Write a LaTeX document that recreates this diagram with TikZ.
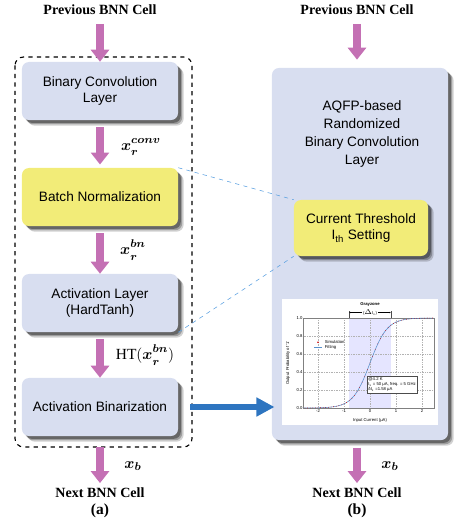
\documentclass[tikz,border=0pt]{standalone}
\usepackage{fontspec}
\usepackage{amsmath}
\setmainfont{Liberation Serif}
\setsansfont{Liberation Sans}
\usetikzlibrary{arrows.meta}
\definecolor{cellblue}{RGB}{216,222,240}
\definecolor{bnyellow}{RGB}{242,236,120}
\definecolor{flowpink}{RGB}{196,112,180}
\definecolor{linkblue}{RGB}{46,117,192}
\definecolor{dashblue}{RGB}{90,160,225}
\newcommand{\upsc}[1]{\raisebox{1.2pt}{$\scriptstyle\boldsymbol{#1}$}}
\newcommand{\dnsc}[1]{\raisebox{-1.2pt}{$\scriptstyle\boldsymbol{#1}$}}
\tikzset{
  softshadow/.style={
    preaction={fill=black, opacity=0.18, transform canvas={xshift=4pt, yshift=-4pt}},
    preaction={fill=black, opacity=0.25, transform canvas={xshift=3pt, yshift=-3pt}},
    preaction={fill=black, opacity=0.35, transform canvas={xshift=2pt, yshift=-2pt}}},
  layerbox/.style={rounded corners=5pt, fill=cellblue, minimum width=3.9cm, minimum height=1.45cm,
    align=center, font=\sffamily\fontsize{9.7}{12}\selectfont, softshadow},
  normbox/.style={layerbox, fill=bnyellow},
  cellhead/.style={font=\bfseries\fontsize{10}{12}\selectfont},
  flowlabel/.style={font=\fontsize{11}{13}\selectfont, inner sep=1pt},
  flow/.style={flowpink, line width=0.2cm, -{Triangle[width=0.45cm,length=0.3cm]}},
  feed/.style={linkblue, line width=0.15cm, -{Triangle[width=0.45cm,length=0.45cm]}},
  plottext/.style={font=\sffamily\fontsize{3}{3.6}\selectfont, inner sep=0.6pt},
}
\begin{document}
\begin{tikzpicture}[x=0.025cm, y=-0.025cm]
  \useasboundingbox (0,0) rectangle (454,527);
  % (a) software BNN cell
  \node[cellhead] (prevA) at (100,10) {Previous BNN Cell};
  \node[layerbox] (conv) at (100,91) {Binary Convolution\\Layer};
  \node[normbox] (bn) at (100,197) {Batch Normalization};
  \node[layerbox] (act) at (100,303) {Activation Layer\\(HardTanh)};
  \node[layerbox] (bin) at (100,407) {Activation Binarization};
  \node[cellhead] (nextA) at (100,493) {Next BNN Cell};
  \node[cellhead, font=\bfseries\fontsize{11}{13}\selectfont] (capA) at (100,511) {(a)};
  \draw[dashed, thick, rounded corners=6pt] (15,57) rectangle (192,447);
  \draw[flow, shorten <=0.1cm] (prevA) -- (conv);
  \draw[flow, shorten <=0.18cm, shorten >=0.08cm] (conv) -- (bn);
  \draw[flow, shorten <=0.18cm] (bn) -- (act);
  \draw[flow, shorten <=0.18cm] (act) -- (bin);
  \draw[flow, shorten <=0.28cm] (bin) -- (nextA);
  \node[flowlabel] (lconv) at (141,147) {$\boldsymbol{x}_{\dnsc{r}}^{\upsc{conv}}$};
  \node[flowlabel] (lbn) at (133,250) {$\boldsymbol{x}_{\dnsc{r}}^{\upsc{bn}}$};
  \node[flowlabel] (lht) at (145,355) {$\mathrm{HT}(\boldsymbol{x}_{\dnsc{r}}^{\upsc{bn}})$};
  \node[flowlabel] (lbA) at (133,466) {$\boldsymbol{x_b}$};
  % (b) AQFP cell
  \node[cellhead] (prevB) at (357,10) {Previous BNN Cell};
  \node[layerbox, minimum width=4.4cm, minimum height=9.3cm] (aqfp) at (360,254) {};
  \node[font=\sffamily\fontsize{9.7}{13}\selectfont, align=center] (aqfpname) at (362,134)
    {AQFP-based\\Randomized\\Binary Convolution\\Layer};
  \node[normbox, minimum width=3.35cm, minimum height=1.4cm] (thr) at (361,228)
    {Current Threshold\\I\textsubscript{th} Setting};
  \node[fill=white, minimum width=3.9cm, minimum height=3.125cm, inner sep=0pt] (plot) at (360,362) {};
  \node[cellhead] (nextB) at (357,493) {Next BNN Cell};
  \node[cellhead, font=\bfseries\fontsize{11}{13}\selectfont] (capB) at (357,511) {(b)};
  \draw[flow, shorten <=0.1cm, shorten >=0.2cm] (prevB) -- (prevB |- aqfp.north);
  \draw[flow, shorten <=0.18cm] (nextB |- aqfp.south) -- (nextB);
  \node[flowlabel] (lbB) at (390,466) {$\boldsymbol{x_b}$};
  \draw[feed, shorten <=0.3cm, shorten >=0.18cm] (bin.east) -- (bin.east -| plot.west);
  \draw[dashblue, dashed] (bn.north east) -- (thr.north west);
  \draw[dashblue, dashed] (act.south east) -- (thr.south west);
  % transfer curve
  \begin{scope}[shift={(370,408)}, x=0.65cm, y=2.25cm]
    \fill[blue!10] (-0.8,0) rectangle (0.8,1);
    \draw[black!70, line width=0.2pt] (-0.8,1) -- (-0.8,1.08) (0.8,1) -- (0.8,1.08);
    \foreach \t in {-2,...,2}{\draw[gray!60, densely dotted, line width=0.2pt] (\t,0) -- (\t,1);}
    \foreach \p in {0.2,0.4,0.6,0.8}{\draw[gray!60, densely dotted, line width=0.2pt] (-2.55,\p) -- (2.45,\p);}
    \draw[gray, line width=0.3pt] (-2.55,0) rectangle (2.45,1);
    \foreach \t in {-2,...,2}{\node[plottext, below] at (\t,0) {\t};}
    \foreach \p in {0.0,0.2,0.4,0.6,0.8,1.0}{\node[plottext, left] at (-2.55,\p) {\p};}
    \draw[linkblue!80, line width=0.4pt, domain=-2.55:2.45, samples=80] plot (\x,{1/(1+exp(-\x/0.33))});
    \foreach \s in {-25,...,24}{\fill[red!80!black] ({\s/10},{1/(1+exp(-\s/3.3))}) circle (0.28pt);}
    \node[plottext, font=\sffamily\bfseries\fontsize{3}{3.6}\selectfont] at (0,1.15) {Grayzone};
    \node[plottext] (gz) at (0,1.06) {($\Delta$I\textsubscript{x})};
    \draw[line width=0.25pt, -{Stealth[length=1.2pt]}] (gz.west) -- (-0.8,1.06);
    \draw[line width=0.25pt, -{Stealth[length=1.2pt]}] (gz.east) -- (0.8,1.06);
    \fill[red!80!black] (-2.0,0.73) circle (0.6pt);
    \node[plottext, right] at (-1.78,0.73) {Simulation};
    \draw[linkblue!80, line width=0.5pt] (-2.15,0.67) -- (-1.85,0.67);
    \node[plottext, right] at (-1.78,0.67) {Fitting};
    \node[plottext, draw=black!70, fill=white, line width=0.25pt, align=left, inner sep=1pt, anchor=north west]
      at (-0.12,0.36) {@4.2 K\\I\textsubscript{x} = 50 μA, freq. = 5 GHz\\δI\textsubscript{x} =1.58 μA};
    \node[plottext, rotate=90] at (-3.15,0.5) {Output Probability of `1'};
    \node[plottext] at (0,-0.14) {Input Current (μA)};
  \end{scope}
\end{tikzpicture}
\end{document}
